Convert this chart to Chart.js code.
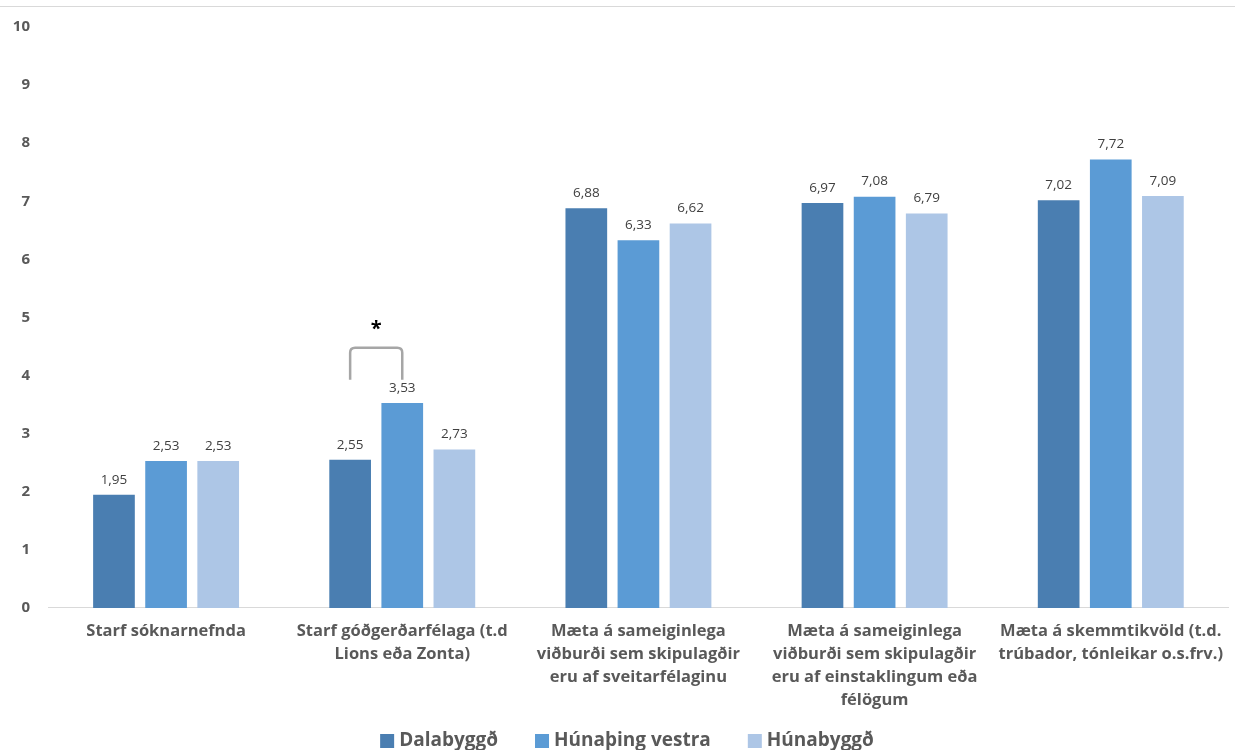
<!DOCTYPE html>
<html>
<head>
<meta charset="utf-8">
<script src="https://cdn.jsdelivr.net/npm/chart.js@4/dist/chart.umd.min.js"></script>
<style>
  body { margin: 0; background: #fff; }
  #wrap { position: relative; width: 1235px; height: 750px; }
  #topline { position: absolute; left: 0; top: 6px; width: 1235px; height: 1px; background: #d9d9d9; }
</style>
</head>
<body>
<div id="wrap">
  <div id="topline"></div>
  <canvas id="chart" width="1235" height="750"></canvas>
</div>
<script>
const categories = [
    'Starf sóknarnefnda',
    ['Starf góðgerðarfélaga (t.d', 'Lions eða Zonta)'],
    ['Mæta á sameiginlega', 'viðburði sem skipulagðir', 'eru af sveitarfélaginu'],
    ['Mæta á sameiginlega', 'viðburði sem skipulagðir', 'eru af einstaklingum eða', 'félögum'],
    ['Mæta á skemmtikvöld (t.d.', 'trúbador, tónleikar o.s.frv.)']
];
const dalabyggd = [1.95, 2.55, 6.88, 6.97, 7.02];
const hunathingVestra = [2.53, 3.53, 6.33, 7.08, 7.72];
const hunabyggd = [2.53, 2.73, 6.62, 6.79, 7.09];
const seriesNames = ['Dalabyggð', 'Húnaþing vestra', 'Húnabyggð'];
const seriesColors = ['#4a7eb1', '#5b9bd5', '#adc6e6'];

const FONT = '"Open Sans", Lato, sans-serif';

// numbers above every bar, with comma decimals
const valueLabels = {
    id: 'valueLabels',
    afterDatasetsDraw(chart) {
        const ctx = chart.ctx;
        ctx.save();
        ctx.font = '13.5px ' + FONT;
        ctx.fillStyle = '#404040';
        ctx.textAlign = 'center';
        ctx.textBaseline = 'middle';
        chart.data.datasets.forEach((ds, i) => {
            chart.getDatasetMeta(i).data.forEach((bar, j) => {
                ctx.fillText(ds.data[j].toFixed(2).replace('.', ','), bar.x, bar.y - 15);
            });
        });
        ctx.restore();
    }
};

// significance bracket over the second group
const bracket = {
    id: 'bracket',
    afterDatasetsDraw(chart) {
        const ctx = chart.ctx;
        const y = chart.scales.y;
        const a = chart.getDatasetMeta(0).data[1];
        const b = chart.getDatasetMeta(1).data[1];
        const top = y.getPixelForValue(4.48);
        const bottom = y.getPixelForValue(3.93);
        const r = 5;
        ctx.save();
        ctx.strokeStyle = '#a6a6a6';
        ctx.lineWidth = 2.5;
        ctx.beginPath();
        ctx.moveTo(a.x, bottom);
        ctx.lineTo(a.x, top + r);
        ctx.quadraticCurveTo(a.x, top, a.x + r, top);
        ctx.lineTo(b.x - r, top);
        ctx.quadraticCurveTo(b.x, top, b.x, top + r);
        ctx.lineTo(b.x, bottom);
        ctx.stroke();
        ctx.fillStyle = '#000';
        ctx.font = 'bold 20px ' + FONT;
        ctx.textAlign = 'center';
        ctx.textBaseline = 'middle';
        ctx.fillText('*', (a.x + b.x) / 2, y.getPixelForValue(4.8));
        ctx.restore();
    }
};

// legend row at the bottom, spaced like the original
const bottomLegend = {
    id: 'bottomLegend',
    afterDraw(chart) {
        const ctx = chart.ctx;
        const box = 14, gapText = 5, gapItem = 37, cy = 741;
        ctx.save();
        ctx.font = 'bold 19px ' + FONT;
        ctx.textBaseline = 'middle';
        const widths = seriesNames.map(n => box + gapText + ctx.measureText(n).width);
        const total = widths.reduce((s, w) => s + w, 0) + gapItem * (widths.length - 1);
        let x = 627 - total / 2;
        chart.data.datasets.forEach((ds, i) => {
            ctx.fillStyle = ds.backgroundColor;
            ctx.fillRect(x, cy - box / 2, box, box);
            ctx.fillStyle = '#595959';
            ctx.fillText(ds.label, x + box + gapText, cy);
            x += widths[i] + gapItem;
        });
        ctx.restore();
    }
};

new Chart(document.getElementById('chart'), {
    type: 'bar',
    data: {
        labels: categories,
        datasets: [dalabyggd, hunathingVestra, hunabyggd].map((d, i) => ({
            label: seriesNames[i],
            data: d,
            backgroundColor: seriesColors[i],
            borderWidth: 0,
            categoryPercentage: 0.662,
            barPercentage: 0.8
        }))
    },
    options: {
        responsive: false,
        animation: false,
        layout: { padding: { top: 8, right: 0, left: 0, bottom: 26 } },
        plugins: {
            tooltip: { enabled: false },
            legend: { display: false }
        },
        scales: {
            x: {
                grid: { display: false, drawTicks: false },
                border: { color: '#d9d9d9', width: 1 },
                ticks: {
                    color: '#595959',
                    padding: 12,
                    maxRotation: 0,
                    autoSkip: false,
                    font: { family: FONT, size: 16.5, weight: 'bold', lineHeight: 1.394 }
                }
            },
            y: {
                min: 0,
                max: 10,
                afterFit(scale) { scale.width = 48; },
                grid: { display: false, drawTicks: false },
                border: { display: false },
                ticks: {
                    stepSize: 1,
                    color: '#595959',
                    padding: 18,
                    font: { family: FONT, size: 15, weight: 'bold' }
                }
            }
        }
    },
    plugins: [valueLabels, bracket, bottomLegend]
});
</script>
</body>
</html>
